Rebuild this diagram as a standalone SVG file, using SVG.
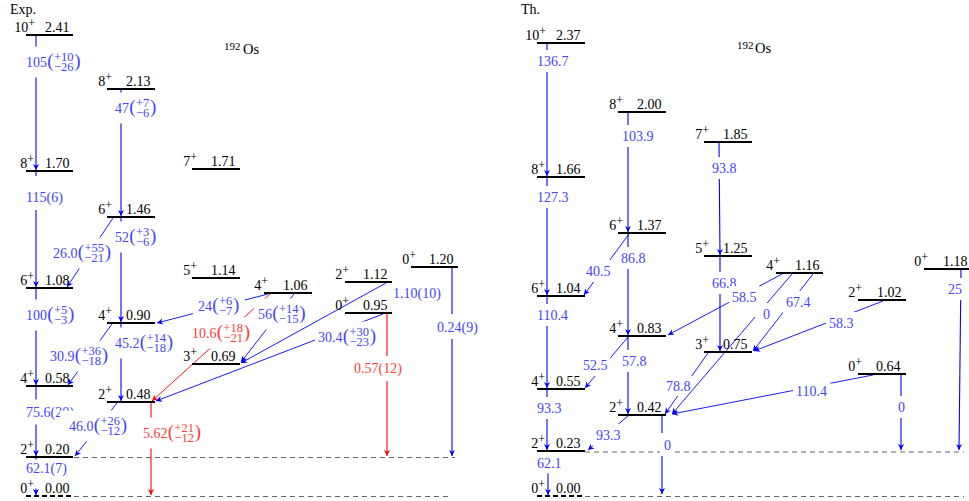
<svg xmlns="http://www.w3.org/2000/svg" width="969" height="501" viewBox="0 0 969 501">
<defs>
<style>
text { font-family: "Liberation Serif", "DejaVu Serif", serif; }
.lv { stroke:#000; stroke-width:2.2; fill:none; }
.lv0 { stroke:#000; stroke-width:2.2; stroke-dasharray:5 3; fill:none; }
.lt { font-size:14px; fill:#000; }
.sp { font-size:12px; }
.tb { stroke:#0000ff; stroke-width:1.1; fill:none; marker-end:url(#ab); }
.td { stroke:#0000ff; stroke-width:0.9; fill:none; marker-end:url(#ab); }
.tr { stroke:#ff0000; stroke-width:1.1; fill:none; marker-end:url(#ar); }
.trd { stroke:#ff0000; stroke-width:0.9; fill:none; marker-end:url(#ar); }
.bx { fill:#fff; stroke:none; }
.lb { font-size:14px; fill:#4444ff; }
.lr { font-size:14px; fill:#ff3b3b; }
.par { font-size:19px; }
.sc { font-size:12.5px; }
.dash { stroke:#666; stroke-width:1; stroke-dasharray:5 4; fill:none; }
.ttl { font-size:14px; fill:#000; }
</style>
<marker id="ab" viewBox="-7 -4 8 8" refX="0" refY="0" markerWidth="8" markerHeight="8" markerUnits="userSpaceOnUse" orient="auto">
<path d="M-6,-3 L0,0 L-6,3 L-4.3,0 z" fill="#0000ff"/>
</marker>
<marker id="ar" viewBox="-7 -4 8 8" refX="0" refY="0" markerWidth="8" markerHeight="8" markerUnits="userSpaceOnUse" orient="auto">
<path d="M-6,-3 L0,0 L-6,3 L-4.3,0 z" fill="#ff0000"/>
</marker>
</defs>
<rect width="969" height="501" fill="#fff"/>

<g id="titles">
<text class="ttl" x="10" y="13.5">Exp.</text>
<text class="ttl" x="521" y="13.5">Th.</text>
<text class="ttl"><tspan x="224" y="50" font-size="11px">192</tspan><tspan x="243" y="54" font-size="14.5px">Os</tspan></text>
<text class="ttl"><tspan x="737" y="49" font-size="11px">192</tspan><tspan x="755" y="53" font-size="14.5px">Os</tspan></text>
</g>

<g id="baselines">
<path class="dash" d="M74,457.5 H455 M74,496.5 H452"/>
<path class="dash" d="M585,452 H964 M585,496.5 H964"/>
</g>

<g id="connectors">
<!-- Exp panel -->
<g id="e105"><path class="tb" d="M36,36 V170"/><rect class="bx" x="22" y="46.5" width="62.6" height="31"/>
<text class="lb"><tspan x="26" y="66.8">105</tspan><tspan class="par" x="47.3" y="67">(</tspan><tspan class="sc" x="54" y="61">+10</tspan><tspan class="sc" x="54" y="71.2">−26</tspan><tspan class="par" x="74.35" y="67">)</tspan></text></g>
<g id="e47"><path class="tb" d="M121,90 V216"/><rect class="bx" x="111" y="92.5" width="49.4" height="31"/>
<text class="lb"><tspan x="115" y="112.8">47</tspan><tspan class="par" x="129.3" y="113">(</tspan><tspan class="sc" x="136" y="107">+7</tspan><tspan class="sc" x="136" y="117.2">−6</tspan><tspan class="par" x="150.1" y="113">)</tspan></text></g>
<g id="e115"><path class="tb" d="M36,172 V287"/><rect class="bx" x="22" y="176" width="45" height="34"/>
<text class="lb" x="26" y="201.8">115(6)</text></g>
<g id="e52"><path class="tb" d="M121,218 V322"/><rect class="bx" x="111" y="221.5" width="49.4" height="31"/>
<text class="lb"><tspan x="115" y="241.8">52</tspan><tspan class="par" x="129.3" y="242">(</tspan><tspan class="sc" x="136" y="236">+3</tspan><tspan class="sc" x="136" y="246.2">−6</tspan><tspan class="par" x="150.1" y="242">)</tspan></text></g>
<g id="e26"><path class="td" d="M113,218 L67,287"/><rect class="bx" x="49" y="237.5" width="62" height="31"/>
<text class="lb"><tspan x="53" y="257.8">26.0</tspan><tspan class="par" x="77.8" y="258">(</tspan><tspan class="sc" x="84.5" y="252">+55</tspan><tspan class="sc" x="84.5" y="262.2">−21</tspan><tspan class="par" x="104.85" y="258">)</tspan></text></g>
<g id="e100"><path class="tb" d="M36,289 V385"/><rect class="bx" x="22" y="299.5" width="56.4" height="31"/>
<text class="lb"><tspan x="26" y="319.8">100</tspan><tspan class="par" x="47.3" y="320">(</tspan><tspan class="sc" x="54" y="314">+5</tspan><tspan class="sc" x="54" y="324.2">−3</tspan><tspan class="par" x="68.1" y="320">)</tspan></text></g>
<g id="e45"><path class="tb" d="M121,324 V401"/><rect class="bx" x="111" y="327.5" width="66" height="31"/>
<text class="lb"><tspan x="115" y="347.8">45.2</tspan><tspan class="par" x="139.8" y="348">(</tspan><tspan class="sc" x="146.5" y="342">+14</tspan><tspan class="sc" x="146.5" y="352.2">−18</tspan><tspan class="par" x="166.85" y="348">)</tspan></text></g>
<g id="e30_9"><path class="td" d="M112,324 L68,385"/><rect class="bx" x="46" y="340.5" width="64" height="31"/>
<text class="lb"><tspan x="50" y="360.8">30.9</tspan><tspan class="par" x="74.8" y="361">(</tspan><tspan class="sc" x="81.5" y="355">+36</tspan><tspan class="sc" x="81.5" y="365.2">−18</tspan><tspan class="par" x="101.85" y="361">)</tspan></text></g>
<g id="e75"><path class="tb" d="M36,387 V456"/><rect class="bx" x="22" y="399.5" width="56" height="25"/>
<text class="lb" x="26" y="416.8">75.6(20)</text></g>
<g id="e46"><path class="td" d="M117,403 L75,456"/><rect class="bx" x="60" y="410.5" width="71" height="31"/>
<text class="lb"><tspan x="69" y="430.8">46.0</tspan><tspan class="par" x="93.8" y="431">(</tspan><tspan class="sc" x="100.5" y="425">+26</tspan><tspan class="sc" x="100.5" y="435.2">−12</tspan><tspan class="par" x="120.85" y="431">)</tspan></text></g>
<g id="e62"><path class="tb" d="M36,458 V495"/><rect class="bx" x="22" y="459.5" width="49" height="29"/>
<text class="lb" x="26" y="472.8">62.1(7)</text></g>
<g id="e24"><path class="td" d="M268,294 L157,323"/><rect class="bx" x="193" y="290.5" width="52" height="31"/>
<text class="lb"><tspan x="198" y="310.8">24</tspan><tspan class="par" x="212.3" y="311">(</tspan><tspan class="sc" x="219" y="305">+6</tspan><tspan class="sc" x="219" y="315.2">−7</tspan><tspan class="par" x="233.1" y="311">)</tspan></text></g>
<g id="e10"><path class="trd" d="M270,294 L152,401"/><rect class="bx" x="188" y="317.5" width="66" height="31"/>
<text class="lr"><tspan x="192" y="337.8">10.6</tspan><tspan class="par" x="216.8" y="338">(</tspan><tspan class="sc" x="223.5" y="332">+18</tspan><tspan class="sc" x="223.5" y="342.2">−21</tspan><tspan class="par" x="243.85" y="338">)</tspan></text></g>
<g id="e56"><path class="td" d="M294,294 L241,362"/><rect class="bx" x="254" y="298.5" width="53" height="31"/>
<text class="lb"><tspan x="258" y="318.8">56</tspan><tspan class="par" x="272.3" y="319">(</tspan><tspan class="sc" x="279" y="313">+14</tspan><tspan class="sc" x="279" y="323.2">−15</tspan><tspan class="par" x="299.35" y="319">)</tspan></text></g>
<g id="e30_4"><path class="td" d="M383,314 L156,401"/><rect class="bx" x="315" y="321.5" width="63" height="31"/>
<text class="lb"><tspan x="318" y="341.8">30.4</tspan><tspan class="par" x="342.8" y="342">(</tspan><tspan class="sc" x="349.5" y="336">+30</tspan><tspan class="sc" x="349.5" y="346.2">−23</tspan><tspan class="par" x="369.85" y="342">)</tspan></text></g>
<g id="e110"><path class="td" d="M386,283 L241,363"/><rect class="bx" x="390" y="280.5" width="54" height="25"/>
<text class="lb" x="393" y="297.8">1.10(10)</text></g>
<g id="e057"><path class="tr" d="M387,314 V456"/><rect class="bx" x="351" y="356" width="55" height="25"/>
<text class="lr" x="354" y="372.8">0.57(12)</text></g>
<g id="e024"><path class="tb" d="M452,268 V456"/><rect class="bx" x="434" y="314" width="47" height="25"/>
<text class="lb" x="437" y="331.8">0.24(9)</text></g>
<g id="e562"><path class="tr" d="M151,403 V495"/><rect class="bx" x="139" y="417.5" width="66" height="31"/>
<text class="lr"><tspan x="143" y="437.8">5.62</tspan><tspan class="par" x="167.8" y="438">(</tspan><tspan class="sc" x="174.5" y="432">+21</tspan><tspan class="sc" x="174.5" y="442.2">−12</tspan><tspan class="par" x="194.85" y="438">)</tspan></text></g>

<!-- Th panel -->
<g id="t136"><path class="tb" d="M547,44 V176"/><rect class="bx" x="534" y="50" width="37.5" height="22"/><text class="lb" x="537" y="65.8">136.7</text></g>
<g id="t103"><path class="tb" d="M628,113 V232"/><rect class="bx" x="619" y="125" width="37.5" height="22"/><text class="lb" x="622" y="140.8">103.9</text></g>
<g id="t93_8"><path class="tb" d="M719,143 L720,255"/><rect class="bx" x="709" y="157" width="30.5" height="22"/><text class="lb" x="712" y="172.8">93.8</text></g>
<g id="t127"><path class="tb" d="M547,178 V295"/><rect class="bx" x="534" y="186" width="37.5" height="22"/><text class="lb" x="537" y="201.8">127.3</text></g>
<g id="t86"><path class="tb" d="M628,234 V335"/><rect class="bx" x="619" y="247" width="30.5" height="22"/><text class="lb" x="621" y="262.8">86.8</text></g>
<g id="t40"><path class="td" d="M629,234 L584,295"/><rect class="bx" x="583" y="260" width="30.5" height="22"/><text class="lb" x="586" y="275.8">40.5</text></g>
<g id="t66"><path class="tb" d="M720,257 V351"/><rect class="bx" x="709" y="272" width="30.5" height="22"/><text class="lb" x="712" y="287.8">66.8</text></g>
<g id="t110a"><path class="tb" d="M547,297 V388"/><rect class="bx" x="534" y="304" width="37.5" height="22"/><text class="lb" x="537" y="319.8">110.4</text></g>
<g id="t58_5"><path class="td" d="M782,274 L668,335"/><rect class="bx" x="729" y="286" width="30.5" height="22"/><text class="lb" x="732" y="301.8">58.5</text></g>
<g id="t67"><path class="td" d="M813,274 L753,351"/><rect class="bx" x="783" y="291" width="30.5" height="22"/><text class="lb" x="786" y="306.8">67.4</text></g>
<g id="t58_3"><path class="td" d="M883,301 L754,351"/><rect class="bx" x="826" y="312" width="30.5" height="22"/><text class="lb" x="829" y="327.8">58.3</text></g>
<g id="t57"><path class="tb" d="M628,337 V414"/><rect class="bx" x="619" y="350" width="30.5" height="22"/><text class="lb" x="622" y="365.8">57.8</text></g>
<g id="t52"><path class="td" d="M628,337 L585,388"/><rect class="bx" x="580" y="354" width="30.5" height="22"/><text class="lb" x="583" y="369.8">52.5</text></g>
<g id="t78"><path class="td" d="M708,353 L665,414"/><rect class="bx" x="663" y="376" width="29" height="20"/><text class="lb" x="666" y="390.8">78.8</text></g>
<g id="t0a"><path class="td" d="M792,274 L672,414"/><rect class="bx" x="755" y="303" width="18" height="22"/><text class="lb" x="763" y="318.8">0</text></g>
<g id="t110b"><path class="td" d="M873,375 L672,414"/><rect class="bx" x="793" y="380" width="37.5" height="22"/><text class="lb" x="796" y="395.8">110.4</text></g>
<g id="t93a"><path class="tb" d="M547,390 V450"/><rect class="bx" x="534" y="397" width="30.5" height="22"/><text class="lb" x="537" y="412.8">93.3</text></g>
<g id="t93b"><path class="td" d="M628,416 L588,450"/><rect class="bx" x="593" y="424" width="30.5" height="22"/><text class="lb" x="596" y="439.8">93.3</text></g>
<g id="t0b"><path class="tb" d="M662,416 V494"/><rect class="bx" x="660" y="433" width="13" height="23"/><text class="lb" x="664" y="449.8">0</text></g>
<g id="t62"><path class="tb" d="M548,453 V495"/><rect class="bx" x="534" y="452.5" width="30.5" height="21"/><text class="lb" x="537" y="467.8">62.1</text></g>
<g id="t0c"><path class="tb" d="M901,375 V450"/><rect class="bx" x="897" y="396" width="13" height="22"/><text class="lb" x="898" y="411.8">0</text></g>
<g id="t25"><path class="tb" d="M961,270 L959,450"/><rect class="bx" x="945" y="278" width="20" height="22"/><text class="lb" x="948" y="293.8">25</text></g>
</g>

<g id="levels">
<!-- Exp -->
<g id="x10"><path class="lv" d="M26,35 H73"/><text class="lt" x="35" y="32" text-anchor="end">10<tspan class="sp" dy="-5">+</tspan></text><text class="lt" x="45" y="32">2.41</text></g>
<g id="x8a"><path class="lv" d="M26,171 H73"/><text class="lt" x="34" y="168" text-anchor="end">8<tspan class="sp" dy="-5">+</tspan></text><text class="lt" x="45" y="168">1.70</text></g>
<g id="x6a"><path class="lv" d="M26,288 H73"/><text class="lt" x="34" y="285" text-anchor="end">6<tspan class="sp" dy="-5">+</tspan></text><text class="lt" x="45" y="285">1.08</text></g>
<g id="x4a"><path class="lv" d="M26,386 H73"/><text class="lt" x="34" y="383" text-anchor="end">4<tspan class="sp" dy="-5">+</tspan></text><text class="lt" x="45" y="383">0.58</text></g>
<g id="x2a"><path class="lv" d="M26,457 H73"/><text class="lt" x="34" y="454" text-anchor="end">2<tspan class="sp" dy="-5">+</tspan></text><text class="lt" x="45" y="454">0.20</text></g>
<g id="x0a"><path class="lv0" d="M26,496 H73"/><text class="lt" x="34" y="493" text-anchor="end">0<tspan class="sp" dy="-5">+</tspan></text><text class="lt" x="45" y="493">0.00</text></g>
<g id="x8b"><path class="lv" d="M107,89 H155"/><text class="lt" x="112" y="86" text-anchor="end">8<tspan class="sp" dy="-5">+</tspan></text><text class="lt" x="126" y="86">2.13</text></g>
<g id="x6b"><path class="lv" d="M107,217 H155"/><text class="lt" x="112" y="214" text-anchor="end">6<tspan class="sp" dy="-5">+</tspan></text><text class="lt" x="126" y="214">1.46</text></g>
<g id="x4b"><path class="lv" d="M107,323 H155"/><text class="lt" x="112" y="320" text-anchor="end">4<tspan class="sp" dy="-5">+</tspan></text><text class="lt" x="126" y="320">0.90</text></g>
<g id="x2b"><path class="lv" d="M107,402 H155"/><text class="lt" x="112" y="399" text-anchor="end">2<tspan class="sp" dy="-5">+</tspan></text><text class="lt" x="126" y="399">0.48</text></g>
<g id="x7"><path class="lv" d="M192,169 H240"/><text class="lt" x="197" y="166" text-anchor="end">7<tspan class="sp" dy="-5">+</tspan></text><text class="lt" x="211" y="166">1.71</text></g>
<g id="x5"><path class="lv" d="M192,278 H240"/><text class="lt" x="197" y="275" text-anchor="end">5<tspan class="sp" dy="-5">+</tspan></text><text class="lt" x="211" y="275">1.14</text></g>
<g id="x3"><path class="lv" d="M192,364 H240"/><text class="lt" x="197" y="361" text-anchor="end">3<tspan class="sp" dy="-5">+</tspan></text><text class="lt" x="211" y="361">0.69</text></g>
<g id="x4c"><path class="lv" d="M264,293 H312"/><text class="lt" x="268" y="290" text-anchor="end">4<tspan class="sp" dy="-5">+</tspan></text><text class="lt" x="283" y="290">1.06</text></g>
<g id="x2c"><path class="lv" d="M345,282 H392"/><text class="lt" x="349" y="279" text-anchor="end">2<tspan class="sp" dy="-5">+</tspan></text><text class="lt" x="363" y="279">1.12</text></g>
<g id="x0b"><path class="lv" d="M345,313 H392"/><text class="lt" x="349" y="310" text-anchor="end">0<tspan class="sp" dy="-5">+</tspan></text><text class="lt" x="363" y="310">0.95</text></g>
<g id="x0c"><path class="lv" d="M411,267 H458"/><text class="lt" x="416" y="264" text-anchor="end">0<tspan class="sp" dy="-5">+</tspan></text><text class="lt" x="429" y="264">1.20</text></g>
<!-- Th -->
<g id="y10"><path class="lv" d="M537,43 H585"/><text class="lt" x="546" y="40" text-anchor="end">10<tspan class="sp" dy="-5">+</tspan></text><text class="lt" x="556" y="40">2.37</text></g>
<g id="y8a"><path class="lv" d="M537,177 H585"/><text class="lt" x="545" y="174" text-anchor="end">8<tspan class="sp" dy="-5">+</tspan></text><text class="lt" x="556" y="174">1.66</text></g>
<g id="y6a"><path class="lv" d="M537,296 H585"/><text class="lt" x="545" y="293" text-anchor="end">6<tspan class="sp" dy="-5">+</tspan></text><text class="lt" x="556" y="293">1.04</text></g>
<g id="y4a"><path class="lv" d="M537,389 H585"/><text class="lt" x="545" y="386" text-anchor="end">4<tspan class="sp" dy="-5">+</tspan></text><text class="lt" x="556" y="386">0.55</text></g>
<g id="y2a"><path class="lv" d="M537,451 H585"/><text class="lt" x="545" y="448" text-anchor="end">2<tspan class="sp" dy="-5">+</tspan></text><text class="lt" x="556" y="448">0.23</text></g>
<g id="y0a"><path class="lv0" d="M537,496 H585"/><text class="lt" x="545" y="493" text-anchor="end">0<tspan class="sp" dy="-5">+</tspan></text><text class="lt" x="556" y="493">0.00</text></g>
<g id="y8b"><path class="lv" d="M618,112 H666"/><text class="lt" x="623" y="109" text-anchor="end">8<tspan class="sp" dy="-5">+</tspan></text><text class="lt" x="637" y="109">2.00</text></g>
<g id="y6b"><path class="lv" d="M618,233 H666"/><text class="lt" x="623" y="230" text-anchor="end">6<tspan class="sp" dy="-5">+</tspan></text><text class="lt" x="637" y="230">1.37</text></g>
<g id="y4b"><path class="lv" d="M618,336 H666"/><text class="lt" x="623" y="333" text-anchor="end">4<tspan class="sp" dy="-5">+</tspan></text><text class="lt" x="637" y="333">0.83</text></g>
<g id="y2b"><path class="lv" d="M618,415 H666"/><text class="lt" x="623" y="412" text-anchor="end">2<tspan class="sp" dy="-5">+</tspan></text><text class="lt" x="637" y="412">0.42</text></g>
<g id="y7"><path class="lv" d="M704,142 H752"/><text class="lt" x="709" y="139" text-anchor="end">7<tspan class="sp" dy="-5">+</tspan></text><text class="lt" x="723" y="139">1.85</text></g>
<g id="y5"><path class="lv" d="M704,256 H752"/><text class="lt" x="709" y="253" text-anchor="end">5<tspan class="sp" dy="-5">+</tspan></text><text class="lt" x="723" y="253">1.25</text></g>
<g id="y3"><path class="lv" d="M704,352 H752"/><text class="lt" x="709" y="349" text-anchor="end">3<tspan class="sp" dy="-5">+</tspan></text><text class="lt" x="723" y="349">0.75</text></g>
<g id="y4c"><path class="lv" d="M776,273 H823"/><text class="lt" x="780" y="270" text-anchor="end">4<tspan class="sp" dy="-5">+</tspan></text><text class="lt" x="795" y="270">1.16</text></g>
<g id="y2c"><path class="lv" d="M858,300 H906"/><text class="lt" x="862" y="297" text-anchor="end">2<tspan class="sp" dy="-5">+</tspan></text><text class="lt" x="877" y="297">1.02</text></g>
<g id="y0b"><path class="lv" d="M858,374 H906"/><text class="lt" x="862" y="371" text-anchor="end">0<tspan class="sp" dy="-5">+</tspan></text><text class="lt" x="876" y="371">0.64</text></g>
<g id="y0c"><path class="lv" d="M924,269 H971"/><text class="lt" x="928" y="266" text-anchor="end">0<tspan class="sp" dy="-5">+</tspan></text><text class="lt" x="943" y="266">1.18</text></g>
</g>
</svg>
